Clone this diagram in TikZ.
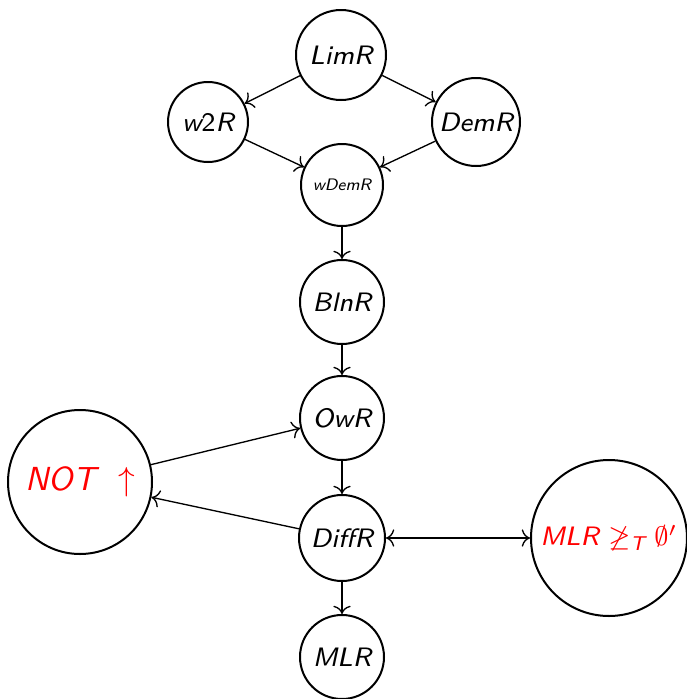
\documentclass[tikz,border=0pt]{standalone}
\usepackage{amsmath}
\usetikzlibrary{arrows.meta}
\newcommand\basefs{\fontsize{8}{9.5}\selectfont}
\begin{document}
\begin{tikzpicture}[x=0.3pt,y=-0.3pt,
  st/.style={circle,draw,semithick,inner sep=0pt,font=\sffamily\itshape\basefs},
  conn/.style={->,thin}]
\useasboundingbox (0,0) rectangle (687,699);
\node[st,minimum size=27pt]   (lim)  at (341,55)  {LimR};
\node[st,minimum size=24pt]   (w2)   at (208,122) {w{\upshape 2}R};
\node[st,minimum size=26.4pt] (dem)  at (476,122) {DemR};
\node[st,minimum size=24.6pt,font=\sffamily\itshape\fontsize{5}{6}\selectfont] (wdem) at (342,185) {wDemR};
\node[st,minimum size=25.2pt] (bln)  at (342,302) {BlnR};
\node[st,minimum size=25.2pt] (ow)   at (342,418) {OwR};
\node[st,minimum size=25.8pt] (diff) at (342,538) {DiffR};
\node[st,minimum size=25.2pt] (mlr)  at (342,657) {MLR};
\node[st,minimum size=43.2pt,text=red,font=\sffamily\itshape\fontsize{10}{12}\selectfont] (not) at (80,482) {NOT\ \ $\uparrow$};
\node[st,minimum size=46.8pt,text=red] (mlrt) at (609,538) {MLR $\not\geq_{\textsf{\textit{T}}} \emptyset'$};
\draw[conn] (lim) -- (w2);
\draw[conn] (lim) -- (dem);
\draw[conn] (w2) -- (wdem);
\draw[conn] (dem) -- (wdem);
\draw[conn] (wdem) -- (bln);
\draw[conn] (bln) -- (ow);
\draw[conn] (ow) -- (diff);
\draw[conn] (not) -- (ow);
\draw[conn] (diff) -- (not);
\draw[conn,<->] (diff) -- (mlrt);
\draw[conn] (diff) -- (mlr);
\end{tikzpicture}
\end{document}
